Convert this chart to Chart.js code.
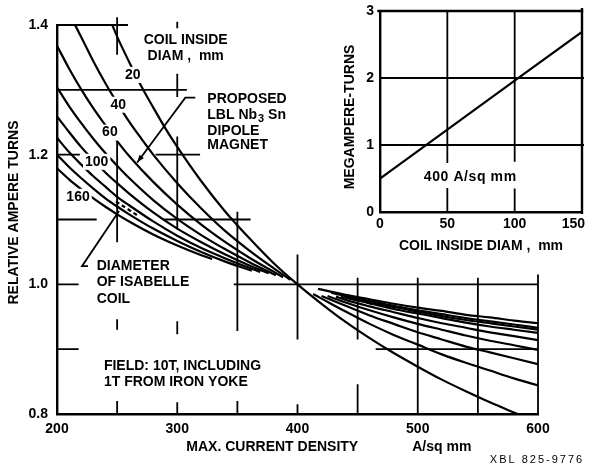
<!DOCTYPE html>
<html>
<head>
<meta charset="utf-8">
<script src="https://cdn.jsdelivr.net/npm/chart.js@4.4.1/dist/chart.umd.min.js"></script>
<style>
html,body{margin:0;padding:0;background:#ffffff;}
#wrap{position:relative;width:589px;height:469px;overflow:hidden;background:#fff;}
canvas{position:absolute;top:0;}
#main{left:0;}
#inset{left:340px;}
</style>
</head>
<body>
<div id="wrap">
<canvas id="main" width="589" height="469"></canvas>
<canvas id="inset" width="249" height="260"></canvas>
</div>
<script>
// ---------------- data ----------------
const xTicks = [200, 300, 400, 500, 600];
const yTicks = [0.8, 1.0, 1.2, 1.4];
const insetXTicks = [0, 50, 100, 150];
const insetYTicks = [0, 1, 2, 3];
const insetDiam = [0, 50, 100, 150];
const insetMAT  = [0.5, 1.23, 1.96, 2.69];

// coil inside diameter 20 mm (continuous)
const c20 = [[246,1.4],[250,1.382],[260,1.343],[270,1.306],[280,1.273],[290,1.241],[300,1.212],[320,1.159],[340,1.112],[360,1.071],[380,1.033],[400,1.0],[420,0.970],[440,0.942],[460,0.917],[480,0.894],[500,0.873],[520,0.853],[540,0.835],[560,0.818],[583,0.8]];
// 40 mm
const c40L = [[215,1.4],[220,1.382],[230,1.345],[240,1.311],[250,1.280],[260,1.251],[270,1.225],[280,1.200],[300,1.156],[320,1.117],[340,1.082],[360,1.052],[380,1.025],[394,1.007]];
const c40R = [[413,0.985],[420,0.978],[440,0.958],[460,0.939],[480,0.922],[500,0.907],[520,0.892],[540,0.879],[560,0.867],[580,0.855],[600,0.844]];
// 60 mm
const c60L = [[200,1.368],[210,1.333],[220,1.301],[230,1.272],[240,1.246],[250,1.221],[260,1.198],[280,1.158],[300,1.123],[320,1.092],[340,1.065],[360,1.041],[388,1.011]];
const c60R = [[420,0.982],[440,0.967],[460,0.952],[480,0.939],[500,0.926],[520,0.915],[540,0.904],[560,0.895],[580,0.886],[600,0.877]];
// 80 mm
const c80L = [[200,1.304],[210,1.275],[220,1.249],[230,1.225],[240,1.203],[250,1.183],[260,1.164],[280,1.130],[300,1.101],[320,1.076],[340,1.054],[360,1.034],[382,1.014]];
const c80R = [[425,0.982],[440,0.972],[460,0.960],[480,0.949],[500,0.939],[520,0.930],[540,0.921],[560,0.913],[580,0.906],[600,0.899]];
// 100 mm
const c100L = [[200,1.259],[210,1.235],[220,1.212],[230,1.192],[240,1.173],[250,1.156],[260,1.140],[280,1.111],[300,1.086],[320,1.065],[340,1.046],[360,1.029],[376,1.017]];
const c100R = [[432,0.981],[440,0.976],[460,0.966],[480,0.957],[500,0.948],[520,0.940],[540,0.933],[560,0.926],[580,0.920],[600,0.914]];
// 120 mm
const c120L = [[200,1.226],[210,1.204],[220,1.185],[230,1.167],[240,1.151],[250,1.135],[260,1.122],[280,1.097],[300,1.075],[320,1.056],[340,1.040],[369,1.019]];
const c120R = [[436,0.981],[460,0.971],[480,0.962],[500,0.955],[520,0.948],[540,0.941],[560,0.935],[580,0.930],[600,0.925]];
// 140 mm
const c140L = [[200,1.200],[210,1.181],[220,1.164],[230,1.148],[240,1.133],[250,1.120],[260,1.108],[280,1.086],[300,1.067],[320,1.050],[340,1.035],[362,1.021]];
const c140R = [[428,0.987],[440,0.982],[460,0.974],[480,0.967],[500,0.960],[520,0.954],[540,0.948],[560,0.943],[580,0.938],[600,0.933]];
// 160 mm
const c160L = [[200,1.179],[210,1.162],[220,1.147],[230,1.133],[240,1.120],[250,1.108],[260,1.097],[280,1.077],[300,1.060],[320,1.045],[329,1.039]];
const c160R = [[417,0.993],[440,0.984],[460,0.977],[480,0.970],[500,0.964],[520,0.959],[540,0.953],[560,0.949],[580,0.944],[600,0.940]];
// Isabelle coil diameter
const isaL = [[249,1.128],[258,1.117],[268,1.105]];
const isaR = [[443,0.980],[460,0.973],[480,0.965],[500,0.958],[520,0.951],[540,0.945],[560,0.940],[580,0.935],[600,0.930]];
const isaMark = [[443,0.980],[468,0.969]];

// ---------------- decoration (grid pieces, annotations) ----------------
const FONT = '"Liberation Sans", Arial, Helvetica, sans-serif';
const fnt = (s, b) => (b ? 'bold ' : '') + s + 'px ' + FONT;

const hGrid = [[1.4,200,259],[1.3,200,308],[1.2,200,219],[1.2,282,319],[1.1,200,233],[1.1,288,361],[1.0,200,218],[1.0,347,600],[0.9,200,218],[0.9,465,600]];
const vGrid = [[250,1.412,1.354],[250,1.227,1.065],[250,0.946,0.930],[250,0.82,0.8],
               [300,1.405,1.395],[300,1.325,1.289],[300,1.228,1.085],[300,0.943,0.923],[300,0.818,0.8],
               [350,1.112,0.928],[350,0.82,0.8],[400,1.046,0.915],[400,0.815,0.8],
               [450,1.01,0.915],[450,0.846,0.8],[500,1.01,0.8],[550,1.01,0.8],[600,1.015,0.8]];
const curveLabels = [['20',263,1.323],['40',251,1.277],['60',244,1.234],['100',233,1.189],['160',217.5,1.135]];
const notes = [
  ['COIL INSIDE',307,1.377,'center'],['DIAM ,  mm',307,1.352,'center'],
  ['PROPOSED',325,1.285,'left'],['DIPOLE',325,1.237,'left'],['MAGNET',325,1.214,'left'],
  ['DIAMETER',233,1.028,'left'],['OF ISABELLE',233,1.003,'left'],['COIL',233,0.977,'left'],
  ['FIELD: 10T, INCLUDING',239,0.874,'left'],['1T FROM IRON YOKE',239,0.849,'left']
];

function seg(...parts) {
  const out = [];
  parts.forEach((p, i) => {
    if (i > 0) out.push({x: (parts[i-1][parts[i-1].length-1][0] + p[0][0]) / 2, y: null});
    p.forEach(([a, b]) => out.push({x: a, y: b}));
  });
  return out;
}
function ds(data, extra) {
  return Object.assign({data, borderColor:'#000', borderWidth:2.2, pointRadius:0, fill:false,
    cubicInterpolationMode:'monotone', spanGaps:false}, extra || {});
}

function arrowHead(ctx, fx, fy, tx, ty, size) {
  const ang = Math.atan2(ty - fy, tx - fx);
  ctx.beginPath();
  ctx.moveTo(tx, ty);
  ctx.lineTo(tx - size*Math.cos(ang - 0.35), ty - size*Math.sin(ang - 0.35));
  ctx.lineTo(tx - size*Math.cos(ang + 0.35), ty - size*Math.sin(ang + 0.35));
  ctx.closePath();
  ctx.fill();
}

const mainDecor = {
  id: 'mainDecor',
  beforeDatasetsDraw(chart) {
    const {ctx, scales:{x, y}} = chart;
    ctx.save();
    ctx.strokeStyle = '#000'; ctx.lineWidth = 1.8; ctx.lineCap = 'butt';
    ctx.beginPath();
    hGrid.forEach(([v,a,b]) => { const yy = y.getPixelForValue(v); ctx.moveTo(x.getPixelForValue(a), yy); ctx.lineTo(x.getPixelForValue(b), yy); });
    vGrid.forEach(([v,a,b]) => { const xx = x.getPixelForValue(v); ctx.moveTo(xx, y.getPixelForValue(a)); ctx.lineTo(xx, y.getPixelForValue(b)); });
    ctx.stroke();
    ctx.restore();
  },
  afterDatasetsDraw(chart) {
    const {ctx, chartArea, scales:{x, y}} = chart;
    const P = (a, b) => [x.getPixelForValue(a), y.getPixelForValue(b)];
    ctx.save();
    ctx.fillStyle = '#000';
    ctx.font = fnt(14, true);
    ctx.textBaseline = 'middle';
    // curve labels with knock-out background
    curveLabels.forEach(([t,a,b]) => {
      const [px, py] = P(a, b);
      const w = ctx.measureText(t).width;
      ctx.fillStyle = '#fff';
      ctx.fillRect(px - w/2 - 2, py - 8, w + 4, 16);
      ctx.fillStyle = '#000';
      ctx.textAlign = 'center';
      ctx.fillText(t, px, py);
    });
    // notes
    notes.forEach(([t,a,b,al]) => {
      const [px, py] = P(a, b);
      ctx.textAlign = al;
      ctx.fillText(t, px, py);
    });
    // LBL Nb3 Sn with subscript
    {
      const [px, py] = P(325, 1.261);
      ctx.textAlign = 'left';
      ctx.font = fnt(14, true);
      ctx.fillText('LBL Nb', px, py);
      let w = ctx.measureText('LBL Nb').width;
      ctx.font = fnt(11, true);
      ctx.fillText('3', px + w + 1, py + 4);
      w += ctx.measureText('3').width + 1;
      ctx.font = fnt(14, true);
      ctx.fillText(' Sn', px + w, py);
    }
    // leaders
    ctx.strokeStyle = '#000'; ctx.lineWidth = 1.8;
    {
      const a = P(315, 1.288), b = P(306.7, 1.288), c = P(266.7, 1.188);
      ctx.beginPath(); ctx.moveTo(a[0], a[1]); ctx.lineTo(b[0], b[1]); ctx.lineTo(c[0], c[1]); ctx.stroke();
      arrowHead(ctx, b[0], b[1], c[0], c[1], 8);
      const d = P(225.8, 1.028), e = P(220.8, 1.028), g = P(251.6, 1.113);
      ctx.beginPath(); ctx.moveTo(d[0], d[1]); ctx.lineTo(e[0], e[1]); ctx.lineTo(g[0], g[1]); ctx.stroke();
    }
    // axis titles
    ctx.font = fnt(14, true);
    ctx.textAlign = 'center';
    ctx.save();
    ctx.translate(14, (chartArea.top + chartArea.bottom) / 2 - 7);
    ctx.rotate(-Math.PI / 2);
    ctx.fillText('RELATIVE AMPERE TURNS', 0, 0);
    ctx.restore();
    const ty = chartArea.bottom + 33;
    ctx.fillText('MAX. CURRENT DENSITY', x.getPixelForValue(379), ty);
    ctx.fillText('A/sq mm', x.getPixelForValue(520), ty);
    // reference number
    ctx.font = fnt(11, false);
    if ('letterSpacing' in ctx) ctx.letterSpacing = '2px';
    ctx.fillText('XBL 825-9776', 537, 460);
    ctx.restore();
  }
};

const axisFont = {family: FONT, size: 14, weight: 'bold'};

new Chart(document.getElementById('main'), {
  type: 'line',
  data: {
    datasets: [
      ds(seg(c20)),
      ds(seg(c40L, c40R)),
      ds(seg(c60L, c60R)),
      ds(seg(c80L, c80R)),
      ds(seg(c100L, c100R)),
      ds(seg(c120L, c120R)),
      ds(seg(c140L, c140R)),
      ds(seg(c160L, c160R)),
      ds(seg(isaL), {borderDash:[4,3]}),
      ds(seg(isaR)),
      ds(seg(isaMark), {borderWidth:4.5, borderDash:[7,11]})
    ]
  },
  options: {
    responsive: false, animation: false, devicePixelRatio: 1,
    layout: {padding: {top: 25, right: 51, left: 0, bottom: 0}},
    plugins: {legend: {display: false}, tooltip: {enabled: false}},
    scales: {
      x: {
        type: 'linear', min: 200, max: 600,
        afterBuildTicks: s => { s.ticks = xTicks.map(v => ({value: v})); },
        grid: {display: false, drawTicks: false},
        border: {display: true, color: '#000', width: 2.4},
        ticks: {color: '#000', font: axisFont, padding: 7, maxRotation: 0, autoSkip: false},
        afterFit: s => { s.height = 55; s.paddingLeft = 0; s.paddingRight = 0; }
      },
      y: {
        type: 'linear', min: 0.8, max: 1.4,
        afterBuildTicks: s => { s.ticks = yTicks.map(v => ({value: v})); },
        grid: {display: false, drawTicks: false},
        border: {display: true, color: '#000', width: 2.4},
        ticks: {color: '#000', font: axisFont, padding: 9, callback: v => Number(v).toFixed(1)},
        afterFit: s => { s.width = 57; s.paddingTop = 0; s.paddingBottom = 0; }
      }
    }
  },
  plugins: [mainDecor]
});

// ---------------- inset ----------------
const insetH = [[1,0,150],[2,0,150]];
const insetFrame = [[3,-2,151]];
const insetV = [[50,3,0.73],[50,0.36,0],[100,3,0.75],[100,0.35,0]];

const insetDecor = {
  id: 'insetDecor',
  beforeDatasetsDraw(chart) {
    const {ctx, scales:{x, y}} = chart;
    ctx.save();
    ctx.strokeStyle = '#000'; ctx.lineCap = 'butt';
    ctx.lineWidth = 1.8;
    ctx.beginPath();
    insetH.forEach(([v,a,b]) => { const yy = y.getPixelForValue(v); ctx.moveTo(x.getPixelForValue(a), yy); ctx.lineTo(x.getPixelForValue(b) + 2, yy); });
    insetV.forEach(([v,a,b]) => { const xx = x.getPixelForValue(v); ctx.moveTo(xx, y.getPixelForValue(a)); ctx.lineTo(xx, y.getPixelForValue(b)); });
    ctx.stroke();
    ctx.lineWidth = 2.4;
    ctx.beginPath();
    insetFrame.forEach(([v,a,b]) => { const yy = y.getPixelForValue(v); ctx.moveTo(x.getPixelForValue(a), yy); ctx.lineTo(x.getPixelForValue(b), yy); });
    const rx = x.getPixelForValue(150);
    ctx.moveTo(rx, y.getPixelForValue(3) - 3); ctx.lineTo(rx, y.getPixelForValue(0) + 2);
    ctx.stroke();
    ctx.restore();
  },
  afterDatasetsDraw(chart) {
    const {ctx, chartArea, scales:{x, y}} = chart;
    ctx.save();
    ctx.fillStyle = '#000';
    ctx.font = fnt(14, true);
    ctx.textBaseline = 'middle';
    ctx.textAlign = 'center';
    // x tick labels (last one kept inside the page)
    insetXTicks.forEach(v => {
      const t = String(v);
      const w = ctx.measureText(t).width;
      let px = x.getPixelForValue(v);
      px = Math.min(px, chart.width - 4 - w/2);
      ctx.fillText(t, px, chartArea.bottom + 12);
    });
    ctx.fillText('COIL INSIDE DIAM ,  mm', (chartArea.left + chartArea.right)/2, chartArea.bottom + 34);
    if ('letterSpacing' in ctx) ctx.letterSpacing = '0.6px';
    ctx.fillText('400 A/sq mm', x.getPixelForValue(67), y.getPixelForValue(0.52));
    if ('letterSpacing' in ctx) ctx.letterSpacing = '0px';
    ctx.save();
    ctx.translate(10, 117);
    ctx.rotate(-Math.PI/2);
    ctx.fillText('MEGAMPERE-TURNS', 0, 0);
    ctx.restore();
    ctx.restore();
  }
};

new Chart(document.getElementById('inset'), {
  type: 'line',
  data: {
    datasets: [ds(insetDiam.map((d, i) => ({x: d, y: insetMAT[i]})), {cubicInterpolationMode:'default', tension:0})]
  },
  options: {
    responsive: false, animation: false, devicePixelRatio: 1,
    layout: {padding: {top: 11, right: 7, left: 0, bottom: 0}},
    plugins: {legend: {display: false}, tooltip: {enabled: false}},
    scales: {
      x: {
        type: 'linear', min: 0, max: 150,
        afterBuildTicks: s => { s.ticks = insetXTicks.map(v => ({value: v})); },
        grid: {display: false, drawTicks: false},
        border: {display: true, color: '#000', width: 2.4},
        ticks: {display: false},
        afterFit: s => { s.height = 48; s.paddingLeft = 0; s.paddingRight = 0; }
      },
      y: {
        type: 'linear', min: 0, max: 3,
        afterBuildTicks: s => { s.ticks = insetYTicks.map(v => ({value: v})); },
        grid: {display: false, drawTicks: false},
        border: {display: true, color: '#000', width: 2.4},
        ticks: {color: '#000', font: axisFont, padding: 6},
        afterFit: s => { s.width = 40; s.paddingTop = 0; s.paddingBottom = 0; }
      }
    }
  },
  plugins: [insetDecor]
});
</script>
</body>
</html>
